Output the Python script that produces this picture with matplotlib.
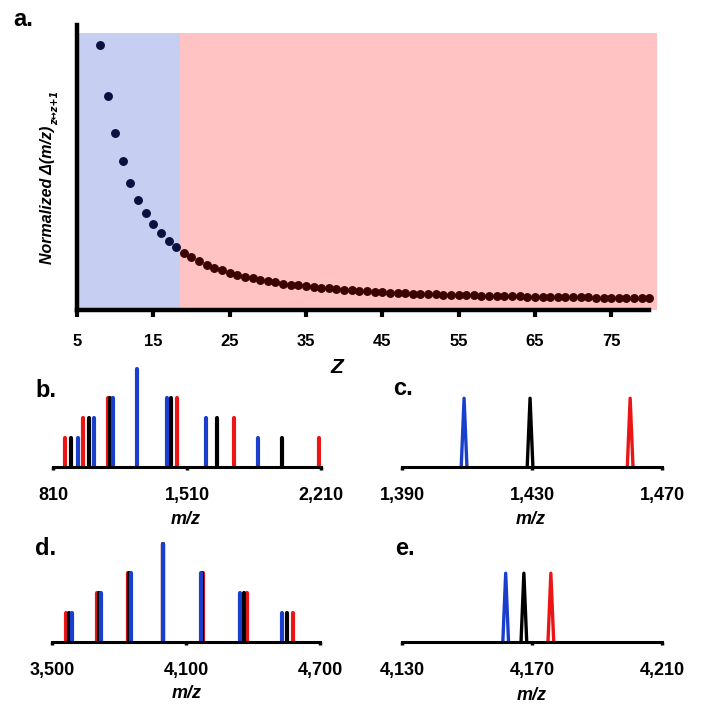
import matplotlib
matplotlib.use('Agg')
import matplotlib.pyplot as plt
import numpy as np

plt.rcParams['font.family'] = ['Liberation Sans', 'DejaVu Sans']

# panel a: normalized spacing between adjacent charge states
charge = list(range(8, 81))
spacing = [1.000, 0.800, 0.655, 0.545, 0.462, 0.396, 0.343, 0.300, 0.265, 0.235,
           0.211, 0.189, 0.171, 0.156, 0.142, 0.130, 0.120, 0.111, 0.103, 0.095,
           0.089, 0.083, 0.077, 0.073, 0.068, 0.064, 0.061, 0.057, 0.054, 0.051,
           0.049, 0.046, 0.044, 0.042, 0.040, 0.038, 0.036, 0.035, 0.033, 0.032,
           0.031, 0.029, 0.028, 0.027, 0.026, 0.025, 0.024, 0.023, 0.023, 0.022,
           0.021, 0.020, 0.020, 0.019, 0.018, 0.018, 0.017, 0.017, 0.016, 0.016,
           0.015, 0.015, 0.014, 0.014, 0.014, 0.013, 0.013, 0.013, 0.012, 0.012,
           0.012, 0.011, 0.011]
z_split = 18.5
a_ticks = [5, 15, 25, 35, 45, 55, 65, 75]

# panel b: low mass envelopes (m/z, relative intensity)
b_red_mz = [873, 969, 1096, 1460, 1753, 2197]
b_red_int = [30, 50, 70, 70, 50, 30]
b_black_mz = [905, 996, 1107, 1429, 1667, 2004]
b_black_int = [30, 50, 70, 70, 50, 30]
b_blue_mz = [938, 1022, 1124, 1250, 1408, 1610, 1882]
b_blue_int = [30, 50, 70, 100, 70, 50, 30]
b_ticks = [810, 1510, 2210]

# panel c: zoom on one charge state
c_mz = {'blue': 1409.1, 'black': 1429.4, 'red': 1460.2}
c_ticks = [1390, 1430, 1470]

# panel d: high mass envelopes
d_red_mz = [3561, 3700, 3841, 3998, 4177, 4373, 4578]
d_black_mz = [3576, 3709, 3847, 3998, 4170, 4358, 4551]
d_blue_mz = [3591, 3718, 3853, 3998, 4165, 4343, 4530]
d_int = [30, 50, 70, 100, 70, 50, 30]
d_ticks = [3500, 4100, 4700]

# panel e: zoom on one charge state
e_mz = {'blue': 4161.9, 'black': 4167.5, 'red': 4175.8}
e_ticks = [4130, 4170, 4210]
peak_int = 70

BLUE = '#1a3fcc'
RED = '#ec1515'
BLACK = '#000000'
cols = {'blue': BLUE, 'black': BLACK, 'red': RED}

W, H = 701, 718
fig = plt.figure(figsize=(W / 100, H / 100), dpi=100)


def box(l, t, r, b):
    return [l / W, 1 - b / H, (r - l) / W, (b - t) / H]


def tick_fmt(v):
    return '{:,}'.format(v)


# ---- panel a
ax = fig.add_axes(box(77, 25, 657, 310))
ax.set_xlim(5, 81)
ax.set_ylim(-0.035, 1.078)
ax.axvspan(5, z_split, ymax=0.972, color='#c6cef2', lw=0, zorder=0)
ax.axvspan(z_split, 81, ymax=0.972, color='#ffc3c3', lw=0, zorder=0)
zc = np.array(charge)
sp = np.array(spacing)
left = zc < z_split
ax.plot(zc[left], sp[left], 'o', color='#0b1040', ms=5.4, zorder=3)
ax.plot(zc[~left], sp[~left], 'o', color='#3b0404', ms=5.4, zorder=3)
for s in ['top', 'right']:
    ax.spines[s].set_visible(False)
ax.spines['left'].set_linewidth(3.2)
ax.spines['bottom'].set_linewidth(3.2)
ax.spines['bottom'].set_bounds(5, 80)
ax.set_yticks([])
ax.set_xticks(a_ticks)
ax.set_xticklabels([str(t) for t in a_ticks], fontsize=12, fontweight='bold')
ax.tick_params(axis='x', length=5, width=3, pad=12)

# y label with a subscript, written as two rotated texts
ylab = fig.text(48 / W, 1 - 264 / H, 'Normalized \u0394(m/z)', rotation=90,
                ha='center', va='bottom', fontsize=11.5,
                fontweight='bold', fontstyle='italic')
fig.canvas.draw()
bb = ylab.get_window_extent()
fig.text(55 / W, (bb.y1 + 1) / H, 'z\u2194z+1', rotation=90, ha='center',
         va='bottom', fontsize=7, fontweight='bold', fontstyle='italic',
         family='DejaVu Sans')

fig.text(337 / W, 1 - 367 / H, 'Z', ha='center', va='center', fontsize=15,
         fontweight='bold', fontstyle='italic')


def style_small(a, ticks):
    for s in ['top', 'right', 'left']:
        a.spines[s].set_visible(False)
    a.spines['bottom'].set_linewidth(2.2)
    a.spines['bottom'].set_zorder(5)
    a.set_yticks([])
    a.set_xticks(ticks)
    a.set_xticklabels([tick_fmt(t) for t in ticks], fontsize=13, fontweight='bold')
    a.tick_params(axis='x', length=2.5, width=2.5, pad=12)


def stick_panel(rect, ticks, series):
    a = fig.add_axes(rect)
    for mz, inten, c in series:
        lc = a.vlines(mz, 0, inten, colors=c, linewidth=3)
        lc.set_capstyle('round')
    a.set_xlim(ticks[0], ticks[-1])
    a.set_ylim(0, 112)
    style_small(a, ticks)
    return a


def peak_panel(rect, ticks, centers):
    a = fig.add_axes(rect)
    hw = (ticks[-1] - ticks[0]) * 0.011
    for name in ['blue', 'black', 'red']:
        cx = centers[name]
        a.plot([cx - hw, cx, cx + hw], [0, peak_int, 0], color=cols[name],
               lw=2.4, solid_joinstyle='round')
    a.set_xlim(ticks[0], ticks[-1])
    a.set_ylim(0, 112)
    style_small(a, ticks)
    return a


stick_panel(box(53, 357, 321, 467), b_ticks,
            [(b_red_mz, b_red_int, RED), (b_black_mz, b_black_int, BLACK),
             (b_blue_mz, b_blue_int, BLUE)])
peak_panel(box(402, 357, 662, 467), c_ticks, c_mz)
stick_panel(box(52, 532, 320, 642), d_ticks,
            [(d_red_mz, d_int, RED), (d_black_mz, d_int, BLACK),
             (d_blue_mz, d_int, BLUE)])
peak_panel(box(402, 532, 662, 642), e_ticks, e_mz)

for (x, y) in [(186, 520), (531, 520), (187, 694), (532, 695)]:
    fig.text(x / W, 1 - y / H, 'm/z', ha='center', va='center', fontsize=13,
             fontweight='bold', fontstyle='italic')

for lab, x, y in [('a.', 13, 26), ('b.', 35, 397), ('c.', 393, 395),
                  ('d.', 35, 555), ('e.', 395, 555)]:
    fig.text(x / W, 1 - y / H, lab, ha='left', va='baseline', fontsize=17,
             fontweight='bold')

fig.savefig('out.png', dpi=100)
